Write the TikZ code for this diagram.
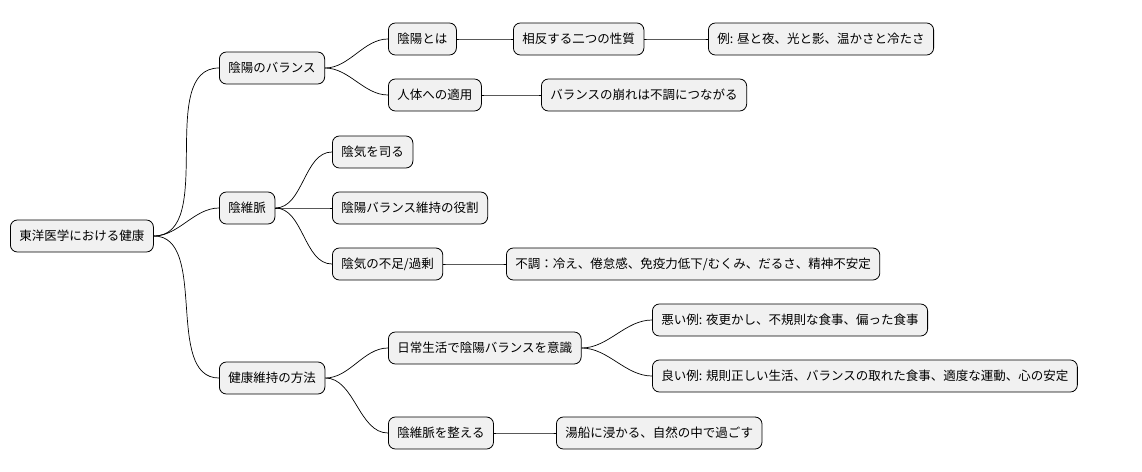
\documentclass[tikz,border=0pt]{standalone}
\usepackage{fontspec}
\setmainfont{Noto Sans CJK JP}
\definecolor{boxfill}{HTML}{F1F1F1}
\tikzset{
  topic/.style={draw=black, line width=0.8pt, fill=boxfill, rounded corners=7pt,
    anchor=west, minimum height=32pt, inner xsep=9pt, font=\fontsize{12.5}{14}\selectfont},
  branch/.style={line width=0.7pt, out=0, in=180, looseness=0.9}
}
\begin{document}
\begin{tikzpicture}[x=1pt, y=-1pt]
\useasboundingbox (0,0) rectangle (1142,471);
% root and first level
\node[topic] (root) at (10,236) {東洋医学における健康};
\node[topic] (bal) at (219,68) {陰陽のバランス};
\node[topic] (imi) at (219,208) {陰維脈};
\node[topic] (kenko) at (219,378) {健康維持の方法};
% second level
\node[topic] (toha) at (388,39) {陰陽とは};
\node[topic] (seishitsu) at (513,39) {相反する二つの性質};
\node[topic] (rei) at (708,39) {例: 昼と夜、光と影、温かさと冷たさ};
\node[topic] (tekiyo) at (388,95) {人体への適用};
\node[topic] (kuzure) at (541,95) {バランスの崩れは不調につながる};
\node[topic] (tsukasa) at (332,152) {陰気を司る};
\node[topic] (yakuwari) at (332,208) {陰陽バランス維持の役割};
\node[topic] (fusoku) at (332,264) {陰気の不足/過剰};
\node[topic] (fucho) at (506,264) {不調：冷え、倦怠感、免疫力低下/むくみ、だるさ、精神不安定};
\node[topic] (nichijo) at (388,348) {日常生活で陰陽バランスを意識};
\node[topic] (warui) at (652,320) {悪い例: 夜更かし、不規則な食事、偏った食事};
\node[topic] (yoi) at (652,376) {良い例: 規則正しい生活、バランスの取れた食事、適度な運動、心の安定};
\node[topic] (totonoe) at (388,433) {陰維脈を整える};
\node[topic] (yubune) at (556,433) {湯船に浸かる、自然の中で過ごす};
% connectors
\foreach \a/\b in {root/bal, root/imi, root/kenko, bal/toha, toha/seishitsu,
    seishitsu/rei, bal/tekiyo, tekiyo/kuzure, imi/tsukasa, imi/yakuwari,
    imi/fusoku, fusoku/fucho, kenko/nichijo, nichijo/warui, nichijo/yoi,
    kenko/totonoe, totonoe/yubune}
  \draw[branch] (\a.east) to (\b.west);
\end{tikzpicture}
\end{document}
